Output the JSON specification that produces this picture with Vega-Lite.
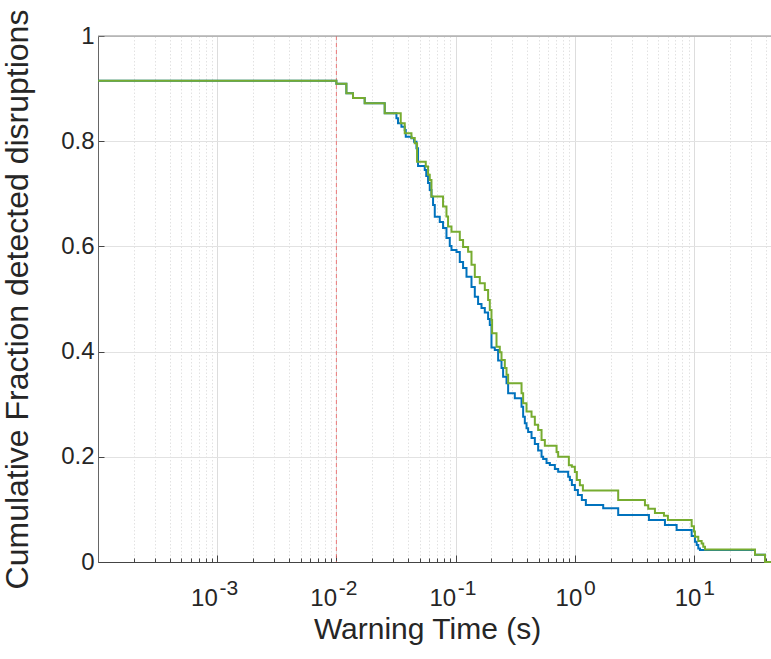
{
  "$schema": "https://vega.github.io/schema/vega-lite/v6.json",
  "width": 673,
  "height": 526,
  "autosize": {"type": "none"},
  "padding": {"left": 98, "top": 36, "right": 0, "bottom": 97},
  "background": "white",
  "config": {
    "font": "Liberation Sans",
    "view": {"stroke": null}
  },
  "datasets": {
    "curves": [
      {"series": "A", "t": 0.0001, "frac": 0.915},
      {"series": "A", "t": 0.01, "frac": 0.909},
      {"series": "A", "t": 0.01213, "frac": 0.891},
      {"series": "A", "t": 0.01379, "frac": 0.882},
      {"series": "A", "t": 0.01728, "frac": 0.872},
      {"series": "A", "t": 0.02544, "frac": 0.853},
      {"series": "A", "t": 0.0319, "frac": 0.8435},
      {"series": "A", "t": 0.0329, "frac": 0.834},
      {"series": "A", "t": 0.03513, "frac": 0.8276},
      {"series": "A", "t": 0.03746, "frac": 0.8213},
      {"series": "A", "t": 0.0382, "frac": 0.8086},
      {"series": "A", "t": 0.04264, "frac": 0.8055},
      {"series": "A", "t": 0.04484, "frac": 0.799},
      {"series": "A", "t": 0.04696, "frac": 0.7865},
      {"series": "A", "t": 0.04844, "frac": 0.7529},
      {"series": "A", "t": 0.05513, "frac": 0.7452},
      {"series": "A", "t": 0.05675, "frac": 0.7338},
      {"series": "A", "t": 0.05877, "frac": 0.7205},
      {"series": "A", "t": 0.06073, "frac": 0.7072},
      {"series": "A", "t": 0.06276, "frac": 0.6945},
      {"series": "A", "t": 0.06474, "frac": 0.6787},
      {"series": "A", "t": 0.06691, "frac": 0.6565},
      {"series": "A", "t": 0.07368, "frac": 0.6464},
      {"series": "A", "t": 0.07852, "frac": 0.635},
      {"series": "A", "t": 0.08387, "frac": 0.616},
      {"series": "A", "t": 0.0894, "frac": 0.6008},
      {"series": "A", "t": 0.0924, "frac": 0.5932},
      {"series": "A", "t": 0.1018, "frac": 0.5894},
      {"series": "A", "t": 0.1085, "frac": 0.5703},
      {"series": "A", "t": 0.1156, "frac": 0.5589},
      {"series": "A", "t": 0.1235, "frac": 0.5424},
      {"series": "A", "t": 0.136, "frac": 0.5228},
      {"series": "A", "t": 0.145, "frac": 0.5044},
      {"series": "A", "t": 0.1545, "frac": 0.4905},
      {"series": "A", "t": 0.165, "frac": 0.4829},
      {"series": "A", "t": 0.1759, "frac": 0.4743},
      {"series": "A", "t": 0.1875, "frac": 0.462},
      {"series": "A", "t": 0.1937, "frac": 0.4506},
      {"series": "A", "t": 0.2001, "frac": 0.4078},
      {"series": "A", "t": 0.2134, "frac": 0.403},
      {"series": "A", "t": 0.2275, "frac": 0.3831},
      {"series": "A", "t": 0.2429, "frac": 0.3688},
      {"series": "A", "t": 0.2505, "frac": 0.3523},
      {"series": "A", "t": 0.2676, "frac": 0.3397},
      {"series": "A", "t": 0.276, "frac": 0.3207},
      {"series": "A", "t": 0.3141, "frac": 0.3112},
      {"series": "A", "t": 0.3576, "frac": 0.2952},
      {"series": "A", "t": 0.3689, "frac": 0.2762},
      {"series": "A", "t": 0.3811, "frac": 0.2637},
      {"series": "A", "t": 0.3938, "frac": 0.2542},
      {"series": "A", "t": 0.4062, "frac": 0.2471},
      {"series": "A", "t": 0.4338, "frac": 0.2357},
      {"series": "A", "t": 0.4624, "frac": 0.2243},
      {"series": "A", "t": 0.4929, "frac": 0.212},
      {"series": "A", "t": 0.5264, "frac": 0.2002},
      {"series": "A", "t": 0.5429, "frac": 0.1958},
      {"series": "A", "t": 0.5797, "frac": 0.1882},
      {"series": "A", "t": 0.6179, "frac": 0.1844},
      {"series": "A", "t": 0.6808, "frac": 0.1768},
      {"series": "A", "t": 0.7257, "frac": 0.1717},
      {"series": "A", "t": 0.8804, "frac": 0.1622},
      {"series": "A", "t": 0.9097, "frac": 0.1559},
      {"series": "A", "t": 0.9456, "frac": 0.1464},
      {"series": "A", "t": 1.002, "frac": 0.1369},
      {"series": "A", "t": 1.062, "frac": 0.1274},
      {"series": "A", "t": 1.147, "frac": 0.1179},
      {"series": "A", "t": 1.239, "frac": 0.1084},
      {"series": "A", "t": 1.732, "frac": 0.1021},
      {"series": "A", "t": 2.314, "frac": 0.0894},
      {"series": "A", "t": 4.191, "frac": 0.0798},
      {"series": "A", "t": 5.708, "frac": 0.0703},
      {"series": "A", "t": 7.155, "frac": 0.0608},
      {"series": "A", "t": 9.566, "frac": 0.0494},
      {"series": "A", "t": 10.19, "frac": 0.0386},
      {"series": "A", "t": 10.54, "frac": 0.0323},
      {"series": "A", "t": 10.87, "frac": 0.0257},
      {"series": "A", "t": 11.23, "frac": 0.0228},
      {"series": "A", "t": 32.52, "frac": 0.014},
      {"series": "A", "t": 39.47, "frac": 0},
      {"series": "A", "t": 44.3, "frac": 0},

      {"series": "B", "t": 0.0001, "frac": 0.915},
      {"series": "B", "t": 0.01, "frac": 0.909},
      {"series": "B", "t": 0.01213, "frac": 0.891},
      {"series": "B", "t": 0.01379, "frac": 0.882},
      {"series": "B", "t": 0.01728, "frac": 0.872},
      {"series": "B", "t": 0.02544, "frac": 0.853},
      {"series": "B", "t": 0.03467, "frac": 0.834},
      {"series": "B", "t": 0.03746, "frac": 0.815},
      {"series": "B", "t": 0.04264, "frac": 0.806},
      {"series": "B", "t": 0.04544, "frac": 0.796},
      {"series": "B", "t": 0.0475, "frac": 0.761},
      {"series": "B", "t": 0.05621, "frac": 0.752},
      {"series": "B", "t": 0.05877, "frac": 0.736},
      {"series": "B", "t": 0.06073, "frac": 0.726},
      {"series": "B", "t": 0.06276, "frac": 0.695},
      {"series": "B", "t": 0.07852, "frac": 0.676},
      {"series": "B", "t": 0.08387, "frac": 0.657},
      {"series": "B", "t": 0.0865, "frac": 0.638},
      {"series": "B", "t": 0.0924, "frac": 0.628},
      {"series": "B", "t": 0.1085, "frac": 0.612},
      {"series": "B", "t": 0.1156, "frac": 0.599},
      {"series": "B", "t": 0.1274, "frac": 0.59},
      {"series": "B", "t": 0.136, "frac": 0.565},
      {"series": "B", "t": 0.145, "frac": 0.542},
      {"series": "B", "t": 0.1597, "frac": 0.53},
      {"series": "B", "t": 0.1759, "frac": 0.517},
      {"series": "B", "t": 0.1875, "frac": 0.498},
      {"series": "B", "t": 0.1937, "frac": 0.479},
      {"series": "B", "t": 0.2001, "frac": 0.46},
      {"series": "B", "t": 0.2025, "frac": 0.435},
      {"series": "B", "t": 0.2205, "frac": 0.409},
      {"series": "B", "t": 0.235, "frac": 0.399},
      {"series": "B", "t": 0.2429, "frac": 0.384},
      {"series": "B", "t": 0.2589, "frac": 0.369},
      {"series": "B", "t": 0.2676, "frac": 0.356},
      {"series": "B", "t": 0.276, "frac": 0.34},
      {"series": "B", "t": 0.3576, "frac": 0.321},
      {"series": "B", "t": 0.3689, "frac": 0.302},
      {"series": "B", "t": 0.3938, "frac": 0.286},
      {"series": "B", "t": 0.4338, "frac": 0.276},
      {"series": "B", "t": 0.4624, "frac": 0.261},
      {"series": "B", "t": 0.4929, "frac": 0.251},
      {"series": "B", "t": 0.5264, "frac": 0.232},
      {"series": "B", "t": 0.561, "frac": 0.221},
      {"series": "B", "t": 0.7036, "frac": 0.209},
      {"series": "B", "t": 0.7257, "frac": 0.2},
      {"series": "B", "t": 0.8923, "frac": 0.184},
      {"series": "B", "t": 0.9456, "frac": 0.181},
      {"series": "B", "t": 1.002, "frac": 0.171},
      {"series": "B", "t": 1.041, "frac": 0.156},
      {"series": "B", "t": 1.104, "frac": 0.146},
      {"series": "B", "t": 1.17, "frac": 0.136},
      {"series": "B", "t": 2.314, "frac": 0.118},
      {"series": "B", "t": 3.879, "frac": 0.108},
      {"series": "B", "t": 4.135, "frac": 0.101},
      {"series": "B", "t": 4.705, "frac": 0.093},
      {"series": "B", "t": 5.601, "frac": 0.088},
      {"series": "B", "t": 6.048, "frac": 0.08},
      {"series": "B", "t": 9.566, "frac": 0.068},
      {"series": "B", "t": 10.0, "frac": 0.058},
      {"series": "B", "t": 10.19, "frac": 0.048},
      {"series": "B", "t": 10.87, "frac": 0.04},
      {"series": "B", "t": 11.6, "frac": 0.035},
      {"series": "B", "t": 11.97, "frac": 0.029},
      {"series": "B", "t": 12.37, "frac": 0.024},
      {"series": "B", "t": 32.52, "frac": 0.014},
      {"series": "B", "t": 39.47, "frac": 0},
      {"series": "B", "t": 44.3, "frac": 0}
    ],
    "decades": [
      {"t": 0.001, "base": "10", "power": "-3"},
      {"t": 0.01, "base": "10", "power": "-2"},
      {"t": 0.1, "base": "10", "power": "-1"},
      {"t": 1, "base": "10", "power": "0"},
      {"t": 10, "base": "10", "power": "1"}
    ],
    "threshold": [{"t": 0.01}],
    "box": [{"frac": 1}]
  },
  "layer": [
    {
      "data": {"name": "threshold"},
      "mark": {"type": "rule", "color": "#ee6a6a", "strokeWidth": 1, "strokeDash": [4, 3], "opacity": 0.85},
      "encoding": {
        "x": {
          "field": "t",
          "type": "quantitative",
          "scale": {"type": "log", "domain": [0.0001, 44.3], "nice": false},
          "axis": {
            "title": "Warning Time (s)",
            "titleFont": "Liberation Sans",
            "titleFontSize": 30,
            "titleFontWeight": "normal",
            "titleColor": "#262626",
            "titleX": 329,
            "titleY": 76,
            "titleBaseline": "alphabetic",
            "titleAlign": "center",
            "values": [0.0001, 0.0002, 0.0003, 0.0004, 0.0005, 0.0006, 0.0007, 0.0008, 0.0009,
                       0.001, 0.002, 0.003, 0.004, 0.005, 0.006, 0.007, 0.008, 0.009,
                       0.01, 0.02, 0.03, 0.04, 0.05, 0.06, 0.07, 0.08, 0.09,
                       0.1, 0.2, 0.3, 0.4, 0.5, 0.6, 0.7, 0.8, 0.9,
                       1, 2, 3, 4, 5, 6, 7, 8, 9,
                       10, 20, 30, 40],
            "labels": false,
            "domainColor": "#444444",
            "tickColor": "#444444",
            "tickWidth": 1,
            "tickSize": {"condition": {"test": "abs(log(datum.value)/LN10 - round(log(datum.value)/LN10)) < 0.001", "value": -7}, "value": -4},
            "grid": true,
            "gridColor": {"condition": {"test": "abs(log(datum.value)/LN10 - round(log(datum.value)/LN10)) < 0.001", "value": "#dddddd"}, "value": "#e2e2e2"},
            "gridDash": {"condition": {"test": "abs(log(datum.value)/LN10 - round(log(datum.value)/LN10)) < 0.001", "value": []}, "value": [1.5, 2]},
            "gridWidth": 1
          }
        }
      }
    },
    {
      "data": {"name": "box"},
      "mark": {"type": "rule", "color": "#8a8a8a", "strokeWidth": 1},
      "encoding": {
        "y": {
          "field": "frac",
          "type": "quantitative",
          "scale": {"domain": [0, 1], "nice": false},
          "axis": {
            "title": "Cumulative Fraction detected disruptions",
            "titleFont": "Liberation Sans",
            "titleFontSize": 32,
            "titleFontWeight": "normal",
            "titleColor": "#262626",
            "titleAngle": -90,
            "titleX": -96,
            "titleY": 263,
            "titleBaseline": "top",
            "titleAlign": "center",
            "values": [0, 0.2, 0.4, 0.6, 0.8, 1],
            "format": "~g",
            "labelFont": "Liberation Sans",
            "labelFontSize": 24,
            "labelColor": "#262626",
            "labelPadding": 10,
            "domainColor": "#666666",
            "tickColor": "#444444",
            "tickSize": -6,
            "grid": true,
            "gridColor": "#e2e2e2",
            "gridWidth": 1
          }
        }
      }
    },
    {
      "data": {"name": "curves"},
      "transform": [{"filter": "datum.series == 'A'"}],
      "mark": {"type": "line", "interpolate": "step-after", "color": "#0072BD", "strokeWidth": 2},
      "encoding": {
        "x": {"field": "t", "type": "quantitative"},
        "y": {"field": "frac", "type": "quantitative"}
      }
    },
    {
      "data": {"name": "curves"},
      "transform": [{"filter": "datum.series == 'B'"}],
      "mark": {"type": "line", "interpolate": "step-after", "color": "#77AC30", "strokeWidth": 2},
      "encoding": {
        "x": {"field": "t", "type": "quantitative"},
        "y": {"field": "frac", "type": "quantitative"}
      }
    },
    {
      "data": {"name": "decades"},
      "transform": [{"filter": "datum.t < 1"}],
      "mark": {"type": "text", "font": "Liberation Sans", "fontSize": 24, "color": "#262626", "align": "right", "baseline": "alphabetic", "dx": 0.6, "dy": 44},
      "encoding": {
        "x": {"field": "t", "type": "quantitative"},
        "y": {"datum": 0},
        "text": {"field": "base"}
      }
    },
    {
      "data": {"name": "decades"},
      "transform": [{"filter": "datum.t < 1"}],
      "mark": {"type": "text", "font": "Liberation Sans", "fontSize": 21, "color": "#262626", "align": "left", "baseline": "alphabetic", "dx": 2.3, "dy": 33},
      "encoding": {
        "x": {"field": "t", "type": "quantitative"},
        "y": {"datum": 0},
        "text": {"field": "power"}
      }
    },
    {
      "data": {"name": "decades"},
      "transform": [{"filter": "datum.t >= 1"}],
      "mark": {"type": "text", "font": "Liberation Sans", "fontSize": 24, "color": "#262626", "align": "right", "baseline": "alphabetic", "dx": 7.5, "dy": 44},
      "encoding": {
        "x": {"field": "t", "type": "quantitative"},
        "y": {"datum": 0},
        "text": {"field": "base"}
      }
    },
    {
      "data": {"name": "decades"},
      "transform": [{"filter": "datum.t >= 1"}],
      "mark": {"type": "text", "font": "Liberation Sans", "fontSize": 21, "color": "#262626", "align": "left", "baseline": "alphabetic", "dx": 9.2, "dy": 33},
      "encoding": {
        "x": {"field": "t", "type": "quantitative"},
        "y": {"datum": 0},
        "text": {"field": "power"}
      }
    }
  ]
}
